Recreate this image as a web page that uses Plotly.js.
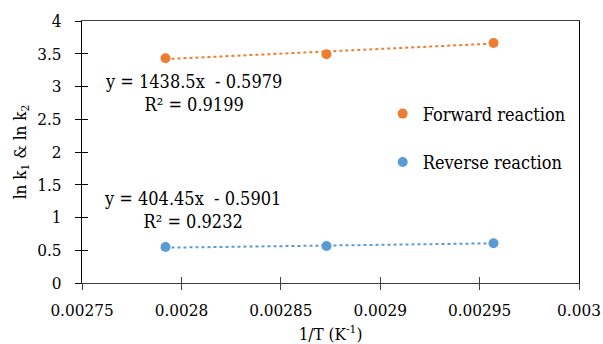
<!DOCTYPE html>
<html>
<head>
<meta charset="utf-8">
<script src="https://cdn.plot.ly/plotly-3.0.1.min.js"></script>
<style>html,body{margin:0;padding:0;background:#fff;}#chart{width:603px;height:344px;}</style>
</head>
<body>
<div id="chart"></div>
<script>
// Data
const invT = [0.002792, 0.002873, 0.002957];          // 1/T (K^-1)
const lnK1 = [3.431, 3.492, 3.665];                    // Forward reaction
const lnK2 = [0.550, 0.566, 0.607];                    // Reverse reaction
const seriesNames = ["Forward reaction", "Reverse reaction"];
const trendSlopes = [1438.5, 404.45];
const trendIntercepts = [-0.5979, -0.5901];
const trendR2 = [0.9199, 0.9232];
const xTicks = [0.00275, 0.0028, 0.00285, 0.0029, 0.00295, 0.003];
const xTickText = ["0.00275", "0.0028", "0.00285", "0.0029", "0.00295", "0.003"];
const yTicks = [0, 0.5, 1, 1.5, 2, 2.5, 3, 3.5, 4];
const yTickText = ["0", "0.5", "1", "1.5", "2", "2.5", "3", "3.5", "4"];

const colors = ["#ED7D31", "#5B9BD5"];
const FONT = "DejaVu Serif Condensed";
const SZ = 17;
const ys = [lnK1, lnK2];

const traces = [];
ys.forEach((y, i) => {
  const xs = [invT[0], invT[invT.length - 1]];
  traces.push({
    x: xs,
    y: xs.map(v => trendSlopes[i] * v + trendIntercepts[i]),
    mode: "lines",
    line: {color: colors[i], width: 2, dash: "dot"},
    showlegend: false,
    hoverinfo: "skip"
  });
});
ys.forEach((y, i) => {
  traces.push({
    x: invT, y: y, mode: "markers", name: seriesNames[i],
    legendgroup: "g" + i,
    marker: {color: colors[i], size: 10}
  });
});
// helper invisible trace for overlay axes (inside ticks)
traces.push({x: [xTicks[0]], y: [yTicks[0]], xaxis: "x2", yaxis: "y2", mode: "markers",
  marker: {opacity: 0}, showlegend: false, hoverinfo: "skip"});

const axFont = {family: FONT, size: SZ, color: "#000"};
const annFont = {family: FONT, size: 18, color: "#000"};
const fmt = v => v.toFixed(4);

const layout = {
  width: 603, height: 344,
  margin: {l: 82, r: 24, t: 21, b: 61},
  paper_bgcolor: "#fff", plot_bgcolor: "#fff",
  font: {family: FONT, color: "#000"},
  showlegend: true,
  legend: {x: 0.605, y: 0.716, xanchor: "left", yanchor: "top",
    font: {family: FONT, size: 18, color: "#000"},
    bgcolor: "rgba(0,0,0,0)", tracegroupgap: 22, traceorder: "grouped"},
  xaxis: {range: [0.00275, 0.003], tickvals: xTicks, ticktext: xTickText,
    ticks: "outside", ticklen: 6, tickcolor: "#404040", tickwidth: 1,
    showline: true, linecolor: "#404040", linewidth: 1, mirror: true,
    showgrid: false, zeroline: false, tickfont: axFont, ticklabelstandoff: 6,
    title: {text: "1/T (K<sup>-1</sup>)", font: axFont, standoff: 17}, automargin: false},
  yaxis: {range: [0, 4], tickvals: yTicks, ticktext: yTickText,
    ticks: "outside", ticklen: 6, tickcolor: "#000", tickwidth: 1,
    showline: true, linecolor: "#000", linewidth: 1, mirror: true,
    showgrid: false, zeroline: false, tickfont: axFont, ticklabelstandoff: 10,
    title: {text: "ln k<sub>1</sub> &amp; ln k<sub>2</sub>", font: axFont, standoff: 6}, automargin: false},
  xaxis2: {overlaying: "x", anchor: "y2", range: [0.00275, 0.003], tickvals: xTicks,
    ticks: "inside", ticklen: 6, tickcolor: "#404040", showticklabels: false,
    showgrid: false, zeroline: false, showline: false, side: "bottom"},
  yaxis2: {overlaying: "y", anchor: "x2", range: [0, 4], tickvals: yTicks,
    ticks: "inside", ticklen: 6, tickcolor: "#000", showticklabels: false,
    showgrid: false, zeroline: false, showline: false, side: "left"},
  annotations: [
    {xref: "paper", yref: "paper", x: 0.224, y: 0.727, xanchor: "center", yanchor: "middle",
     text: "y = " + trendSlopes[0] + "x  - " + fmt(-trendIntercepts[0]) + "<br>R² = " + fmt(trendR2[0]),
     showarrow: false, align: "center", font: annFont},
    {xref: "paper", yref: "paper", x: 0.222, y: 0.279, xanchor: "center", yanchor: "middle",
     text: "y = " + trendSlopes[1] + "x  - " + fmt(-trendIntercepts[1]) + "<br>R² = " + fmt(trendR2[1]),
     showarrow: false, align: "center", font: annFont}
  ]
};

Plotly.newPlot("chart", traces, layout, {staticPlot: true, displayModeBar: false});
</script>
</body>
</html>
